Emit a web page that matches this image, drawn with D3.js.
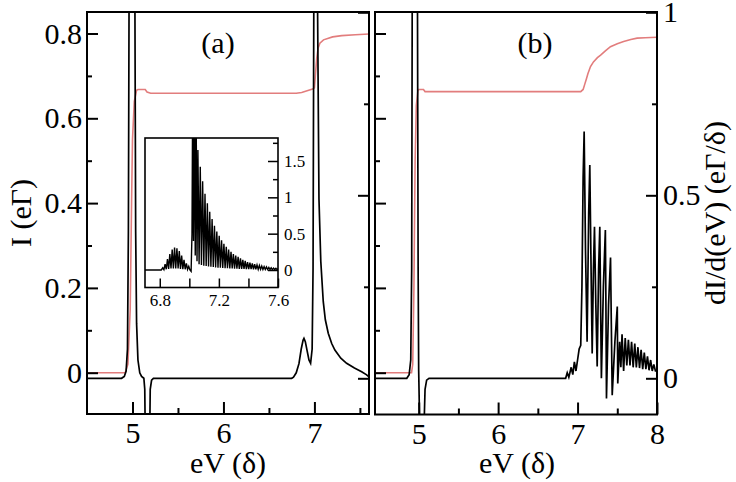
<!DOCTYPE html>
<html>
<head>
<meta charset="utf-8">
<script src="https://cdn.jsdelivr.net/npm/d3@7/dist/d3.min.js"></script>
<style>
  html, body { margin: 0; padding: 0; background: #fff; }
  svg text { font-family: "Liberation Serif", "Times New Roman", Times, serif; fill: #000; }
</style>
</head>
<body>
<svg id="chart" width="736" height="482"></svg>
<script>
// ---------- data ----------
const panelLabels = ["(a)", "(b)"];
const xLabel = "eV (δ)";
const yLeftLabel = "I (eΓ)";
const yRightLabel = "dI/d(eV) (eΓ/δ)";

const xMajorA = [5, 6, 7];
const xMinorA = [5.5, 6.5, 7.5];
const xMajorB = [5, 6, 7, 8];
const xMinorB = [5.5, 6.5, 7.5];
const yIMajor = [0, 0.2, 0.4, 0.6, 0.8];
const yIMinor = [0.1, 0.3, 0.5, 0.7];
const yDMajor = [0, 0.5, 1];
const yDMinor = [0.25, 0.75];
const insetXMajor = [6.8, 7.2, 7.6];
const insetXMinor = [7.0, 7.4];
const insetYMajor = [0, 0.5, 1, 1.5];
const insetYMinor = [0.25, 0.75, 1.25, 1.75];

// panel (a): current I (red, left axis)
const currentA = [[4.5,0],[4.92,0],[4.95,0.02],[4.975,0.15],[4.99,0.4],[5.0,0.55],[5.02,0.64],[5.045,0.666],[5.06,0.668],[5.14,0.668],[5.16,0.662],[5.2,0.659],[6.8,0.659],[6.86,0.661],[6.92,0.665],[6.98,0.669],[7.0,0.672],[7.01,0.7],[7.025,0.74],[7.04,0.765],[7.06,0.777],[7.1,0.785],[7.2,0.792],[7.3,0.795],[7.45,0.797],[7.6,0.799]];
// panel (a): dI/d(eV) (black, right axis)
const condA = [[4.5,0],[4.88,0],[4.91,0.005],[4.93,0.02],[4.945,0.08],[4.955,0.4],[4.962,1.0],[4.975,3],[5.015,3],[5.027,1.0],[5.035,0.4],[5.045,0.15],[5.06,0.05],[5.08,0.015],[5.1,0.005],[5.125,0.0],[5.135,-0.03],[5.145,-0.25],[5.155,-0.4],[5.175,-0.4],[5.185,-0.25],[5.195,-0.03],[5.21,-0.005],[5.23,0],[6.75,0],[6.77,0.003],[6.8,0.015],[6.83,0.04],[6.855,0.08],[6.875,0.104],[6.885,0.109],[6.9,0.1],[6.92,0.075],[6.94,0.05],[6.958,0.041],[6.975,0.08],[6.985,0.3],[6.993,1.0],[7.0,2.0],[7.015,3],[7.028,2.0],[7.035,1.0],[7.05,0.49],[7.07,0.32],[7.097,0.21],[7.12,0.16],[7.152,0.123],[7.19,0.095],[7.225,0.077],[7.29,0.055],[7.354,0.041],[7.44,0.028],[7.519,0.018],[7.57,0.01],[7.6,0.004]];
// inset of panel (a): dI/d(eV) zoom
const insetCond = [[6.7,0],[6.81,0],[6.82,0.03],[6.828,0.005],[6.836,0.08],[6.844,0.01],[6.852,0.15],[6.86,0.015],[6.868,0.22],[6.876,0.02],[6.884,0.28],[6.892,0.02],[6.9,0.31],[6.908,0.02],[6.916,0.3],[6.924,0.02],[6.932,0.26],[6.94,0.015],[6.948,0.2],[6.956,0.012],[6.964,0.14],[6.972,0.01],[6.98,0.09],[6.988,0.008],[6.996,0.05],[7.004,0.0],[7.012,-0.02],[7.018,0.5],[7.022,2.2],[7.028,0.4],[7.034,2.2],[7.04,0.2],[7.046,2.2],[7.052,0.12],[7.058,1.65],[7.066,0.08],[7.074,1.42],[7.082,0.07],[7.09,1.22],[7.098,0.06],[7.106,1.05],[7.114,0.055],[7.122,0.92],[7.13,0.05],[7.138,0.8],[7.146,0.045],[7.154,0.7],[7.162,0.04],[7.17,0.61],[7.178,0.036],[7.186,0.53],[7.194,0.032],[7.202,0.47],[7.21,0.03],[7.218,0.41],[7.226,0.028],[7.234,0.36],[7.242,0.026],[7.25,0.32],[7.258,0.024],[7.266,0.28],[7.274,0.022],[7.282,0.25],[7.29,0.02],[7.298,0.22],[7.306,0.018],[7.314,0.2],[7.322,0.017],[7.33,0.18],[7.338,0.016],[7.346,0.16],[7.354,0.015],[7.362,0.14],[7.37,0.014],[7.378,0.125],[7.386,0.013],[7.394,0.11],[7.402,0.012],[7.41,0.1],[7.418,0.011],[7.426,0.09],[7.434,0.01],[7.442,0.08],[7.45,0.01],[7.458,0.07],[7.466,0.009],[7.474,0.062],[7.482,0.009],[7.49,0.055],[7.498,0.008],[7.506,0.048],[7.514,0.008],[7.522,0.042],[7.53,0.007],[7.538,0.036],[7.546,0.007],[7.554,0.031],[7.562,0.006],[7.57,0.027],[7.578,0.006],[7.586,0.023],[7.594,0.005],[7.6,0.02]];

// panel (b): current I (red)
const currentB = [[4.45,0],[4.91,0],[4.925,0.02],[4.94,0.2],[4.955,0.5],[4.97,0.63],[4.99,0.665],[5.0,0.668],[5.06,0.668],[5.08,0.663],[7.04,0.663],[7.07,0.668],[7.09,0.68],[7.11,0.692],[7.13,0.705],[7.163,0.722],[7.2,0.733],[7.25,0.743],[7.29,0.749],[7.35,0.759],[7.414,0.769],[7.5,0.776],[7.58,0.781],[7.67,0.786],[7.75,0.789],[7.85,0.79],[8.0,0.791]];
// panel (b): dI/d(eV) (black)
const condB = [[4.45,0],[4.85,0],[4.88,0.01],[4.9,0.05],[4.912,0.3],[4.92,1.2],[4.93,3],[4.975,3],[4.985,1.0],[4.993,0.3],[5.0,0.02],[5.01,-0.1],[5.02,-0.3],[5.05,-0.3],[5.065,-0.15],[5.08,-0.03],[5.1,-0.005],[5.13,0],[6.85,0],[6.87,0.015],[6.89,0.003],[6.92,0.03],[6.94,0.01],[6.96,0.045],[6.98,0.02],[7.0,0.05],[7.02,0.08],[7.04,0.09],[7.055,0.25],[7.07,0.55],[7.083,0.674],[7.1,0.35],[7.12,0.1],[7.14,0.45],[7.154,0.583],[7.17,0.3],[7.184,0.068],[7.2,0.3],[7.213,0.414],[7.23,0.2],[7.247,0.032],[7.265,0.3],[7.28,0.414],[7.29,0.2],[7.3,0.0],[7.325,0.25],[7.35,0.405],[7.357,0.2],[7.364,-0.055],[7.39,0.2],[7.415,0.33],[7.425,0.15],[7.436,-0.046],[7.47,0.1],[7.5,0.196],[7.506,-0.014],[7.53,0.1],[7.545,0.03],[7.56,0.12],[7.58,0.02],[7.6,0.11],[7.62,0.035],[7.64,0.105],[7.66,0.035],[7.68,0.1],[7.7,0.03],[7.72,0.095],[7.74,0.03],[7.76,0.085],[7.78,0.028],[7.8,0.078],[7.82,0.025],[7.84,0.07],[7.86,0.025],[7.88,0.06],[7.9,0.022],[7.92,0.05],[7.94,0.02],[7.96,0.038],[7.98,0.02],[8.0,0.02]];

// ---------- drawing ----------
const svg = d3.select("#chart");
const RED = "#e27d7d";
const FONT = 30;
const FAMILY = '"Liberation Serif", "Times New Roman", Times, serif';

const yI = d3.scaleLinear([0, 0.8], [372.7, 33.5]);
const yD = d3.scaleLinear([0, 1], [378.3, 12.3]);

const panels = [
  { x: d3.scaleLinear([4.5, 7.6], [87, 369]), left: 87, right: 369, top: 12, bottom: 414,
    xMajor: xMajorA, xMinor: xMinorA, cur: currentA, cond: condA, label: panelLabels[0], labelX: 218,
    leftLabels: true, rightLabels: false, xLabelX: 228 },
  { x: d3.scaleLinear([4.45, 8], [375, 657]), left: 375, right: 657, top: 12, bottom: 414.5,
    xMajor: xMajorB, xMinor: xMinorB, cur: currentB, cond: condB, label: panelLabels[1], labelX: 535,
    leftLabels: false, rightLabels: true, xLabelX: 517 }
];

function styleAxis(g, fs) {
  g.attr("font-family", FAMILY);
  g.select(".domain").remove();
  g.selectAll(".tick line").attr("stroke", "#000").attr("stroke-width", 2);
  g.selectAll(".tick text").attr("font-size", fs).style("font-family", FAMILY);
}

panels.forEach((p, i) => {
  const g = svg.append("g");
  const clipId = "clip" + i;
  svg.append("clipPath").attr("id", clipId).append("rect")
    .attr("x", p.left).attr("y", p.top).attr("width", p.right - p.left).attr("height", p.bottom - p.top);

  const lineI = d3.line().x(d => p.x(d[0])).y(d => yI(d[1]));
  const lineD = d3.line().x(d => p.x(d[0])).y(d => yD(d[1]));

  const plot = g.append("g").attr("clip-path", `url(#${clipId})`);
  plot.append("path").datum(p.cur).attr("d", lineI)
    .attr("fill", "none").attr("stroke", RED).attr("stroke-width", 1.6);
  plot.append("path").datum(p.cond).attr("d", lineD)
    .attr("fill", "none").attr("stroke", "#000").attr("stroke-width", 1.7);

  g.append("g").attr("transform", `translate(0,${p.bottom})`)
    .call(d3.axisBottom(p.x).tickValues(p.xMajor).tickSize(-12).tickPadding(8).tickFormat(d3.format("d")))
    .call(a => styleAxis(a, FONT));
  g.append("g").attr("transform", `translate(0,${p.bottom})`)
    .call(d3.axisBottom(p.x).tickValues(p.xMinor).tickSize(-6).tickFormat(""))
    .call(a => styleAxis(a, FONT));

  const fmtI = d => d === 0 ? "0" : d3.format(".1f")(d);
  g.append("g").attr("transform", `translate(${p.left},0)`)
    .call(d3.axisLeft(yI).tickValues(yIMajor).tickSize(-11).tickPadding(5)
      .tickFormat(p.leftLabels ? fmtI : ""))
    .call(a => styleAxis(a, FONT));
  g.append("g").attr("transform", `translate(${p.left},0)`)
    .call(d3.axisLeft(yI).tickValues(yIMinor).tickSize(-5).tickFormat(""))
    .call(a => styleAxis(a, FONT));

  const fmtD = d => d === 0 ? "0" : d === 1 ? "1" : String(d);
  g.append("g").attr("transform", `translate(${p.right},0)`)
    .call(d3.axisRight(yD).tickValues(yDMajor).tickSize(-11).tickPadding(6)
      .tickFormat(p.rightLabels ? fmtD : ""))
    .call(a => styleAxis(a, FONT));
  g.append("g").attr("transform", `translate(${p.right},0)`)
    .call(d3.axisRight(yD).tickValues(yDMinor).tickSize(-5).tickFormat(""))
    .call(a => styleAxis(a, FONT));

  g.append("rect").attr("x", p.left).attr("y", p.top)
    .attr("width", p.right - p.left).attr("height", p.bottom - p.top)
    .attr("fill", "none").attr("stroke", "#000").attr("stroke-width", 2);

  g.append("text").attr("x", p.labelX).attr("y", 53).attr("text-anchor", "middle")
    .attr("font-size", FONT).style("font-family", FAMILY).text(p.label);

  g.append("text").attr("x", p.xLabelX).attr("y", 473).attr("text-anchor", "middle")
    .attr("font-size", FONT).style("font-family", FAMILY).text(xLabel);
});

svg.append("text").attr("transform", "translate(31,213) rotate(-90)")
  .attr("text-anchor", "middle").attr("font-size", FONT).style("font-family", FAMILY).text(yLeftLabel);
svg.append("text").attr("transform", "translate(725,213) rotate(-90)")
  .attr("text-anchor", "middle").attr("font-size", FONT).style("font-family", FAMILY).text(yRightLabel);

// ---------- inset ----------
const inset = { left: 145, right: 278, top: 138, bottom: 287.5 };
const xIn = d3.scaleLinear([6.7, 7.6], [inset.left, inset.right]);
const yIn = d3.scaleLinear([0, 1.5], [270, 161]);
const gi = svg.append("g");
gi.append("rect").attr("x", inset.left).attr("y", inset.top)
  .attr("width", inset.right - inset.left).attr("height", inset.bottom - inset.top)
  .attr("fill", "#fff");
svg.append("clipPath").attr("id", "clipIn").append("rect")
  .attr("x", inset.left).attr("y", inset.top)
  .attr("width", inset.right - inset.left).attr("height", inset.bottom - inset.top);
gi.append("g").attr("clip-path", "url(#clipIn)").append("path").datum(insetCond)
  .attr("d", d3.line().x(d => xIn(d[0])).y(d => yIn(d[1])))
  .attr("fill", "none").attr("stroke", "#000").attr("stroke-width", 1.4);

const FS_IN = 17;
gi.append("g").attr("transform", `translate(0,${inset.bottom})`)
  .call(d3.axisBottom(xIn).tickValues(insetXMajor).tickSize(-9).tickPadding(6).tickFormat(d3.format(".1f")))
  .call(a => styleAxis(a, FS_IN));
gi.append("g").attr("transform", `translate(0,${inset.bottom})`)
  .call(d3.axisBottom(xIn).tickValues(insetXMinor).tickSize(-9).tickFormat(""))
  .call(a => styleAxis(a, FS_IN));
gi.append("g").attr("transform", `translate(${inset.right},0)`)
  .call(d3.axisRight(yIn).tickValues(insetYMajor).tickSize(-10).tickPadding(6)
    .tickFormat(d => d === 0 ? "0" : d === 1 ? "1" : String(d)))
  .call(a => styleAxis(a, FS_IN));
gi.append("g").attr("transform", `translate(${inset.right},0)`)
  .call(d3.axisRight(yIn).tickValues(insetYMinor).tickSize(-5).tickFormat(""))
  .call(a => styleAxis(a, FS_IN));
gi.selectAll(".tick line").attr("stroke-width", 1.5);
gi.append("rect").attr("x", inset.left).attr("y", inset.top)
  .attr("width", inset.right - inset.left).attr("height", inset.bottom - inset.top)
  .attr("fill", "none").attr("stroke", "#000").attr("stroke-width", 1.6);
</script>
</body>
</html>
